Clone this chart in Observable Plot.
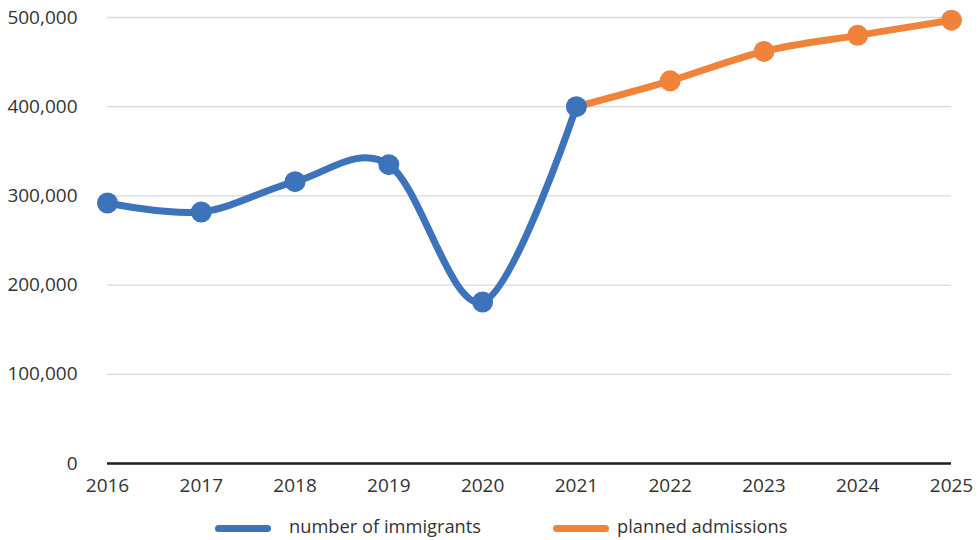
<!DOCTYPE html>
<html>
<head>
<meta charset="utf-8">
<script src="https://cdn.jsdelivr.net/npm/d3@7"></script>
<script src="https://cdn.jsdelivr.net/npm/@observablehq/plot@0.6"></script>
<style>
  html, body { margin: 0; padding: 0; background: #fff; }
  #wrap { position: relative; width: 978px; height: 540px; font-family: "Open Sans", sans-serif; }
  #legend { position: absolute; left: 0; top: 512px; width: 978px; height: 28px; font-size: 18.3px; color: #333; }
  .sw { position: absolute; top: 13px; height: 7px; border-radius: 4px; width: 56px; }
  .lt { position: absolute; top: 2px; line-height: 24px; white-space: nowrap; }
</style>
</head>
<body>
<div id="wrap">
  <div id="chart"></div>
  <div id="legend"></div>
</div>
<script>
const years = [2016, 2017, 2018, 2019, 2020, 2021, 2022, 2023, 2024, 2025];
const yTicks = [0, 100000, 200000, 300000, 400000, 500000];

const immigrantYears = [2016, 2017, 2018, 2019, 2020, 2021];
const immigrants = [292000, 282000, 316000, 335000, 181000, 400000];

const plannedYears = [2021, 2022, 2023, 2024, 2025];
const planned = [400000, 429000, 462000, 480000, 497000];

const seriesNames = ["number of immigrants", "planned admissions"];
const seriesColors = ["#3c73ba", "#f0823a"];

const immData = immigrantYears.map((year, i) => ({year, value: immigrants[i]}));
const planData = plannedYears.map((year, i) => ({year, value: planned[i]}));
const planDots = planData.filter(d => !immigrantYears.includes(d.year));

const chart = Plot.plot({
  width: 978,
  height: 505,
  marginLeft: 107,
  marginRight: 27,
  marginTop: 17,
  marginBottom: 42,
  style: {fontFamily: "Open Sans, sans-serif", fontSize: "19px", color: "#333", background: "#fff"},
  x: {domain: [2016, 2025]},
  y: {domain: [0, 500000]},
  marks: [
    Plot.gridY(yTicks, {stroke: "#d9d9d9", strokeOpacity: 1, strokeWidth: 1.3}),
    Plot.ruleY([0], {stroke: "#1e1e1e", strokeWidth: 2.5}),
    Plot.axisY({ticks: yTicks, tickFormat: d3.format(","), tickSize: 0, tickPadding: 30, label: null, fill: "#333"}),
    Plot.axisX({ticks: years, tickFormat: d => String(d), tickSize: 0, tickPadding: 15, label: null, fill: "#333"}),
    Plot.line(planData, {x: "year", y: "value", stroke: seriesColors[1], strokeWidth: 7, curve: "cardinal"}),
    Plot.line(immData, {x: "year", y: "value", stroke: seriesColors[0], strokeWidth: 7, curve: "cardinal"}),
    Plot.dot(immData, {x: "year", y: "value", r: 10.5, fill: seriesColors[0]}),
    Plot.dot(planDots, {x: "year", y: "value", r: 10.5, fill: seriesColors[1]})
  ]
});
document.getElementById("chart").appendChild(chart);

const legend = document.getElementById("legend");
const legendPos = [{sw: 215, tx: 289}, {sw: 553, tx: 617}];
seriesNames.forEach((name, i) => {
  const s = document.createElement("div");
  s.className = "sw";
  s.style.left = legendPos[i].sw + "px";
  s.style.background = seriesColors[i];
  legend.appendChild(s);
  const t = document.createElement("div");
  t.className = "lt";
  t.style.left = legendPos[i].tx + "px";
  t.textContent = name;
  legend.appendChild(t);
});
</script>
</body>
</html>
